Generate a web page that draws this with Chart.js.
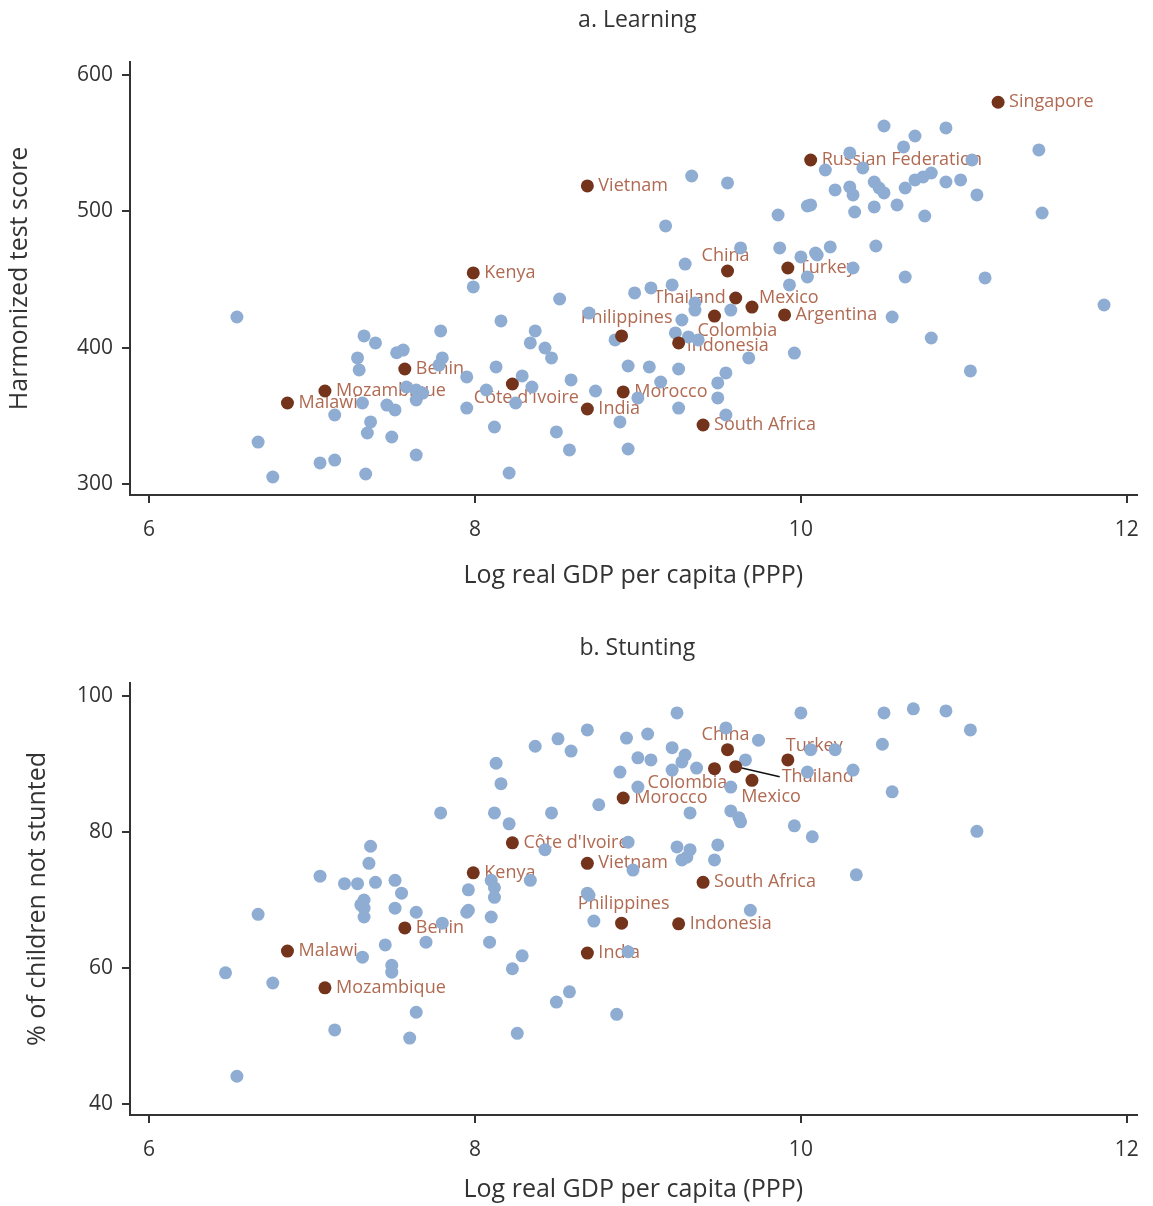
<!DOCTYPE html>
<html>
<head>
<meta charset="utf-8">
<script src="https://cdn.jsdelivr.net/npm/chart.js@4"></script>
<style>
body{margin:0;background:#fff;}
#wrap{position:relative;width:1153px;height:1206px;}
canvas{display:block;}
</style>
</head>
<body>
<div id="wrap">
<canvas id="learnChart" width="1153" height="600"></canvas>
<canvas id="stuntChart" width="1153" height="606"></canvas>
</div>
<script>
var xTicks = [6, 8, 10, 12];
var learnTicks = [300, 400, 500, 600];
var stuntTicks = [40, 60, 80, 100];

// highlighted countries, panel a
var learnNames = ['Singapore', 'Russian Federation', 'Vietnam', 'Kenya', 'China', 'Turkey', 'Thailand', 'Mexico', 'Argentina', 'Philippines', 'Colombia', 'Indonesia', 'Benin', 'Mozambique', 'Malawi', "Côte d'Ivoire", 'Morocco', 'India', 'South Africa'];
var learnHiX = [11.21, 10.06, 8.69, 7.99, 9.55, 9.92, 9.60, 9.70, 9.90, 8.90, 9.47, 9.25, 7.57, 7.08, 6.85, 8.23, 8.91, 8.69, 9.40];
var learnHiY = [580, 537.7, 518.7, 455, 456.4, 458.6, 436.6, 430, 424.2, 408.8, 423.4, 403.7, 384.6, 368.5, 359.7, 373.6, 367.8, 355.3, 343.6];

// other countries, panel a
var learnX = [6.54, 7.79, 7.32, 7.39, 7.52, 7.56, 7.28, 7.29, 7.80, 7.78, 7.95, 7.99, 7.58, 7.64, 7.68, 7.64, 7.31, 7.46, 7.51, 7.14, 7.36, 7.34, 7.49, 6.67, 7.64, 7.05, 7.14, 6.76, 7.33, 7.95,
  8.52, 8.16, 8.37, 8.34, 8.43, 8.47, 8.13, 8.29, 8.59, 8.07, 8.35, 8.25, 8.74, 8.94, 9.07, 9.25, 9.14, 9.49, 9.54, 9.49, 9.25, 8.89, 9.54, 8.12, 8.50, 8.58, 8.94, 8.21, 8.98, 9.08, 9.21, 9.35, 9.35, 9.57, 9.27, 9.23, 9.31, 9.37, 8.86, 8.70, 9.68, 9.96, 9.93, 10.04, 9.00,
  9.33, 9.55, 9.17, 9.86, 10.04, 9.29, 9.63, 9.87, 10.00, 10.09,
  10.51, 10.89, 10.70, 10.63, 10.30, 10.15, 10.38, 10.21, 10.30, 10.32, 10.45, 10.48, 10.51, 10.64, 10.70, 10.75, 10.80, 10.89, 10.98, 11.08, 10.06, 10.33, 10.45, 10.59, 10.76, 11.46, 11.48, 10.46, 10.18, 10.10, 10.32, 11.05,
  10.64, 11.13, 11.86, 10.56, 10.80, 11.04];
var learnY = [422.7, 412.5, 408.8, 403.7, 396.5, 398.5, 392.7, 383.9, 392.7, 387.5, 378.8, 444.7, 371.4, 369.2, 367.0, 361.9, 359.7, 358.2, 354.6, 350.9, 345.8, 337.7, 334.8, 331.1, 321.6, 315.8, 317.9, 305.5, 307.7, 356,
  435.9, 419.8, 412.5, 403.7, 400, 392.7, 386.1, 379.5, 376.6, 369.2, 371.4, 359.7, 368.5, 386.8, 386.1, 384.6, 375.1, 374.4, 381.7, 363.4, 356, 345.8, 350.9, 342.1, 338.5, 325.3, 326, 308.4, 440.3, 444, 446.2, 433, 427.8, 427.8, 420.5, 411, 408.1, 405.9, 405.9, 425.6, 392.7, 396.3, 446.2, 452, 363.4,
  526, 520.9, 489.4, 497.4, 504, 461.5, 473.3, 473.3, 466.7, 469.6,
  562.6, 561.2, 555.3, 547.3, 542.9, 530.4, 531.9, 515.8, 518, 512.1, 521.6, 517.2, 513.6, 517.2, 523.1, 525.3, 528.2, 521.6, 523.1, 512.1, 504.8, 499.6, 503.3, 504.8, 496.7, 545.1, 498.9, 474.7, 474, 468.1, 458.6, 537.7,
  452, 451.3, 431.5, 422.7, 407.3, 383.2];

// highlighted countries, panel b
var stuntNames = ['China', 'Turkey', 'Thailand', 'Mexico', 'Colombia', 'Morocco', "Côte d'Ivoire", 'Vietnam', 'Kenya', 'South Africa', 'Philippines', 'Indonesia', 'India', 'Benin', 'Malawi', 'Mozambique'];
var stuntHiX = [9.55, 9.92, 9.60, 9.70, 9.47, 8.91, 8.23, 8.69, 7.99, 9.40, 8.90, 9.25, 8.69, 7.57, 6.85, 7.08];
var stuntHiY = [92.1, 90.6, 89.6, 87.6, 89.3, 85.0, 78.4, 75.4, 74.0, 72.6, 66.6, 66.5, 62.2, 65.9, 62.5, 57.1];

// other countries, panel b
var stuntX = [7.79, 7.36, 7.35, 7.05, 7.20, 7.28, 7.39, 7.51, 7.55, 7.96, 7.32,
  9.24, 10.00, 8.69, 8.93, 9.06, 8.37, 8.51, 8.59, 9.54, 9.74, 9.21, 9.29, 9.27, 9.21, 9.00, 9.08, 9.36, 9.66, 8.13, 8.89, 8.16, 9.00, 9.57, 8.76, 9.32, 9.57, 9.62, 9.63, 9.96, 8.12, 8.21, 8.47, 8.94, 8.43, 9.24, 9.32, 9.30, 9.27, 9.49, 9.47, 8.97, 8.10, 8.12, 8.34, 8.69, 10.07,
  10.51, 10.69, 10.89, 11.04, 10.21, 10.06, 10.50, 10.32, 10.04, 10.56, 11.08, 10.34,
  6.67, 7.30, 7.32, 7.32, 7.51, 7.64, 7.95, 7.70, 7.80, 7.45, 7.31, 7.49, 7.49, 6.47, 6.76, 7.64, 7.14, 7.60, 6.54,
  8.12, 7.96, 8.10, 8.70, 9.69, 8.73, 8.09, 8.29, 8.23, 8.94, 8.58, 8.50, 8.87, 8.26];
var stuntY = [82.8, 77.9, 75.4, 73.5, 72.4, 72.4, 72.6, 72.9, 71.0, 71.5, 70.0,
  97.5, 97.5, 95.0, 93.8, 94.4, 92.6, 93.7, 91.9, 95.3, 93.5, 92.4, 91.3, 90.3, 89.1, 90.9, 90.6, 89.4, 90.6, 90.1, 88.8, 87.1, 86.6, 86.6, 84.0, 82.8, 83.1, 82.1, 81.5, 80.9, 82.8, 81.2, 82.8, 78.5, 77.4, 77.8, 77.4, 76.3, 75.9, 78.1, 75.9, 74.4, 72.9, 71.8, 72.9, 71.0, 79.3,
  97.5, 98.1, 97.8, 95.0, 92.1, 92.1, 92.9, 89.1, 88.8, 85.9, 80.1, 73.7,
  67.9, 69.3, 68.8, 67.5, 68.8, 68.2, 68.2, 63.8, 66.6, 63.4, 61.6, 60.4, 59.4, 59.3, 57.8, 53.5, 50.9, 49.7, 44.1,
  70.4, 68.5, 67.5, 70.7, 68.5, 66.9, 63.8, 61.8, 59.9, 62.4, 56.5, 55.0, 53.2, 50.4];

var learnPlace = {
  'China': {dx: -2, dy: -15, align: 'center'},
  'Thailand': {dx: -10, dy: 0, align: 'right'},
  'Mexico': {dx: 7, dy: -9, align: 'left'},
  'Philippines': {dx: 5, dy: -18, align: 'center'},
  'Colombia': {dx: -17, dy: 15, align: 'left'},
  'Indonesia': {dx: 8, dy: 3, align: 'left'},
  "Côte d'Ivoire": {dx: 14, dy: 14, align: 'center'}
};
var stuntPlace = {
  'China': {dx: -2, dy: -15, align: 'center'},
  'Turkey': {dx: -2, dy: -14, align: 'left'},
  'Thailand': {dx: 46, dy: 10, align: 'left', leader: true},
  'Mexico': {dx: 19, dy: 17, align: 'center'},
  'Colombia': {dx: -27, dy: 14, align: 'center'},
  'Philippines': {dx: 2, dy: -19, align: 'center'}
};

var FONT = 'Open Sans';
var DARK = '#333333';
var BLUE = '#8fadd2';
var BROWN = '#74331b';
var LABEL = '#b06a52';

function pts(xs, ys) {
  var out = [];
  for (var i = 0; i < xs.length; i++) out.push({x: xs[i], y: ys[i]});
  return out;
}

function labelsPlugin(names, place, title, titleY) {
  return {
    id: 'countryLabels',
    beforeDatasetsDraw: function(chart) {
      var meta = chart.getDatasetMeta(0);
      var ctx = chart.ctx;
      ctx.save();
      ctx.font = '18px "' + FONT + '"';
      ctx.fillStyle = LABEL;
      ctx.textBaseline = 'middle';
      for (var i = 0; i < names.length; i++) {
        var p = meta.data[i];
        var pl = place[names[i]] || {dx: 11, dy: 0, align: 'left'};
        if (pl.leader) {
          ctx.strokeStyle = '#111';
          ctx.lineWidth = 1.5;
          ctx.beginPath();
          ctx.moveTo(p.x + 5, p.y + 1);
          ctx.lineTo(p.x + pl.dx - 2, p.y + pl.dy);
          ctx.stroke();
        }
        ctx.textAlign = pl.align;
        ctx.fillText(names[i], p.x + pl.dx, p.y + pl.dy);
      }
      ctx.restore();
    },
    afterDraw: function(chart) {
      var ctx = chart.ctx;
      var a = chart.chartArea;
      ctx.save();
      ctx.font = '23px "' + FONT + '"';
      ctx.fillStyle = DARK;
      ctx.textAlign = 'center';
      ctx.textBaseline = 'middle';
      ctx.fillText(title, (a.left + a.right) / 2 + 4, titleY);
      ctx.restore();
    }
  };
}

function makeChart(id, cfg) {
  var ctx = document.getElementById(id).getContext('2d');
  return new Chart(ctx, {
    type: 'scatter',
    data: {
      datasets: [{
        data: pts(cfg.hiX, cfg.hiY),
        backgroundColor: BROWN,
        pointRadius: 6.5,
        pointBorderWidth: 0
      }, {
        data: pts(cfg.x, cfg.y),
        backgroundColor: BLUE,
        pointRadius: 6.5,
        pointBorderWidth: 0
      }]
    },
    options: {
      responsive: false,
      animation: false,
      events: [],
      layout: {padding: {top: cfg.top, right: 13, left: 0, bottom: 0}},
      plugins: {legend: {display: false}, tooltip: {enabled: false}},
      scales: {
        x: {
          type: 'linear',
          min: 5.884,
          max: 12.06,
          afterBuildTicks: function(s) { s.ticks = xTicks.map(function(v) { return {value: v}; }); },
          afterFit: function(s) { s.height = cfg.xH; },
          grid: {drawOnChartArea: false, color: DARK, lineWidth: 2, tickLength: 8},
          border: {color: DARK, width: 2},
          ticks: {color: DARK, font: {size: 21, family: FONT}, padding: 14, maxRotation: 0, autoSkip: false},
          title: {display: true, text: 'Log real GDP per capita (PPP)', color: DARK, font: {size: 25, family: FONT}, padding: {top: 0, bottom: cfg.xTitlePad}}
        },
        y: {
          type: 'linear',
          min: cfg.yMin,
          max: cfg.yMax,
          afterBuildTicks: function(s) { s.ticks = cfg.yTicks.map(function(v) { return {value: v}; }); },
          afterFit: function(s) { s.width = 130; },
          grid: {drawOnChartArea: false, color: DARK, lineWidth: 2, tickLength: 8},
          border: {color: DARK, width: 2},
          ticks: {color: DARK, font: {size: 21, family: FONT}, padding: 9, autoSkip: false},
          title: {display: true, text: cfg.yTitle, color: DARK, font: {size: 25, family: FONT}, padding: {top: cfg.yTitlePad, bottom: 0}}
        }
      }
    },
    plugins: [labelsPlugin(cfg.names, cfg.place, cfg.title, cfg.titleY)]
  });
}

var learnChart = makeChart('learnChart', {
  hiX: learnHiX, hiY: learnHiY, x: learnX, y: learnY, names: learnNames, place: learnPlace,
  yMin: 292.3, yMax: 609.5, yTicks: learnTicks, yTitle: 'Harmonized test score',
  top: 62, xH: 105, xTitlePad: 9, yTitlePad: 5, title: 'a. Learning', titleY: 20
});

var stuntChart = makeChart('stuntChart', {
  hiX: stuntHiX, hiY: stuntHiY, x: stuntX, y: stuntY, names: stuntNames, place: stuntPlace,
  yMin: 38.4, yMax: 101.9, yTicks: stuntTicks, yTitle: '% of children not stunted',
  top: 83, xH: 91, xTitlePad: 1, yTitlePad: 23, title: 'b. Stunting', titleY: 48
});
</script>
</body>
</html>
